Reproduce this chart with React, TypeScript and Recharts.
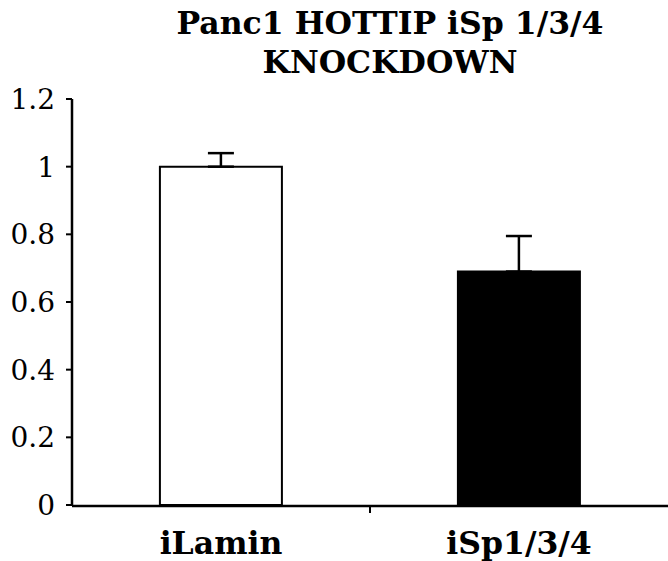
import { BarChart, Bar, XAxis, YAxis, Cell, ErrorBar } from "recharts";

// ─── Data ────────────────────────────────────────────────────────────────────

const CATEGORIES = ["iLamin", "iSp1/3/4"];
const VALUES = [1.0, 0.69];
const ERRORS = [0.04, 0.105];
const FILLS = ["#ffffff", "#000000"];
const Y_TICKS = [0, 0.2, 0.4, 0.6, 0.8, 1, 1.2];
const DIVIDER_TICKS = [1];

const SERIF = "'DejaVu Serif', serif";

const chartData = CATEGORIES.map((name, i) => ({
  name,
  value: VALUES[i],
  err: [0, ERRORS[i]],
  pos: i + 0.5,
}));

export default function App() {
  return (
    <div style={{ position: "absolute", left: 0, top: 0, width: 668, height: 561, background: "#fff" }}>
      <div
        style={{
          position: "absolute",
          left: 112,
          top: 3,
          width: 556,
          textAlign: "center",
          fontFamily: SERIF,
          fontWeight: "bold",
          fontSize: 31.5,
          lineHeight: "39px",
          color: "#000",
        }}
      >
        Panc1 HOTTIP iSp 1/3/4
        <br />
        KNOCKDOWN
      </div>
      <BarChart
        width={668}
        height={561}
        data={chartData}
        margin={{ top: 99, right: 0, left: 0, bottom: 0 }}
        barCategoryGap="29.5%"
      >
        {/* divider tick between the two groups (axis "a" sits next to the plot) */}
        <XAxis
          xAxisId="a"
          type="number"
          dataKey="pos"
          domain={[0, 2]}
          ticks={DIVIDER_TICKS}
          height={1}
          axisLine={false}
          tick={() => <g />}
          tickSize={8}
          tickLine={{ stroke: "#000", strokeWidth: 2 }}
        />
        <XAxis
          xAxisId="b"
          dataKey="name"
          axisLine={{ stroke: "#000", strokeWidth: 2.5 }}
          tickLine={false}
          tickSize={0}
          tickMargin={26}
          height={55}
          tick={{ fontFamily: SERIF, fontWeight: "bold", fontSize: 31.5, fill: "#000" }}
        />
        <YAxis
          domain={[0, 1.2]}
          ticks={Y_TICKS}
          width={72}
          axisLine={{ stroke: "#000", strokeWidth: 2.5 }}
          tickLine={{ stroke: "#000", strokeWidth: 2 }}
          tickSize={6}
          tickMargin={11}
          tick={{ fontFamily: SERIF, fontSize: 28, fill: "#000" }}
        />
        <Bar xAxisId="b" dataKey="value" stroke="#000" strokeWidth={2} isAnimationActive={false}>
          {chartData.map((d, i) => (
            <Cell key={d.name} fill={FILLS[i]} />
          ))}
          <ErrorBar dataKey="err" width={13} stroke="#000" strokeWidth={2.5} direction="y" />
        </Bar>
      </BarChart>
    </div>
  );
}
